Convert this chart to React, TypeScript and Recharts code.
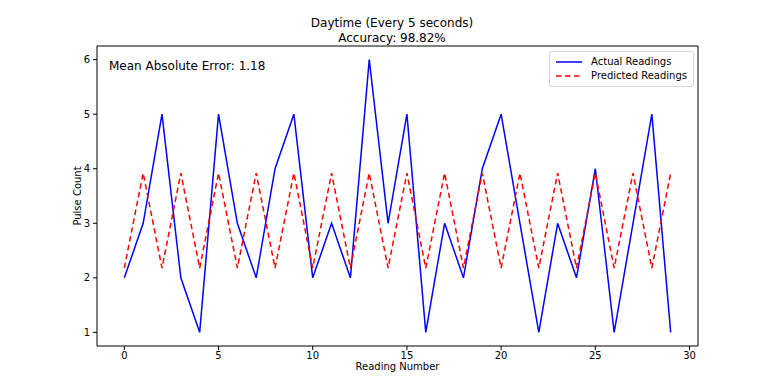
import { LineChart, Line, XAxis, YAxis, ReferenceArea } from "recharts";

const readingNumbers = [
  0, 1, 2, 3, 4, 5, 6, 7, 8, 9, 10, 11, 12, 13, 14, 15, 16, 17, 18, 19, 20, 21,
  22, 23, 24, 25, 26, 27, 28, 29,
];
const actualReadings = [
  2, 3, 5, 2, 1, 5, 3, 2, 4, 5, 2, 3, 2, 6, 3, 5, 1, 3, 2, 4, 5, 3, 1, 3, 2, 4,
  1, 3, 5, 1,
];
const predictedReadings = [
  2.18, 3.92, 2.18, 3.92, 2.18, 3.92, 2.18, 3.92, 2.18, 3.92, 2.18, 3.92, 2.18,
  3.92, 2.18, 3.92, 2.18, 3.92, 2.18, 3.92, 2.18, 3.92, 2.18, 3.92, 2.18, 3.92,
  2.18, 3.92, 2.18, 3.92,
];
const xTicks = [0, 5, 10, 15, 20, 25, 30];
const yTicks = [1, 2, 3, 4, 5, 6];

const data = readingNumbers.map((n, i) => ({
  reading: n,
  actual: actualReadings[i],
  predicted: predictedReadings[i],
}));

const FONT = "'DejaVu Sans', sans-serif";
const X_DOMAIN: [number, number] = [-1.45, 30.45];
const Y_DOMAIN: [number, number] = [0.75, 6.25];

function LegendBox() {
  return (
    <div
      style={{
        position: "absolute",
        right: 82,
        top: 43,
        border: "1px solid #d6d6d6",
        borderRadius: 3,
        background: "rgba(255,255,255,0.8)",
        padding: "3px 6px 3px 5px",
        fontSize: 10,
        color: "#000",
        lineHeight: "14px",
      }}
    >
      <div style={{ display: "flex", alignItems: "center" }}>
        <svg width={28} height={10} style={{ marginRight: 8 }}>
          <line x1={1} y1={5} x2={27} y2={5} stroke="#0000ff" strokeWidth={1.5} />
        </svg>
        Actual Readings
      </div>
      <div style={{ display: "flex", alignItems: "center" }}>
        <svg width={28} height={10} style={{ marginRight: 8 }}>
          <line
            x1={1}
            y1={5}
            x2={27}
            y2={5}
            stroke="#ff0000"
            strokeWidth={1.5}
            strokeDasharray="5.5 3.5"
          />
        </svg>
        Predicted Readings
      </div>
    </div>
  );
}

export default function App() {
  return (
    <div style={{ position: "relative", width: 768, height: 380, fontFamily: FONT }}>
      <div
        style={{
          position: "absolute",
          left: 0,
          width: 768,
          top: 8,
          textAlign: "center",
          fontSize: 12,
          lineHeight: "15px",
        }}
      >
        Daytime (Every 5 seconds)
        <br />
        Accuracy: 98.82%
      </div>
      <div
        style={{
          position: "absolute",
          left: 69,
          top: 188,
          fontSize: 10,
          transform: "translate(-50%, -50%) rotate(-90deg)",
          whiteSpace: "nowrap",
        }}
      >
        Pulse Count
      </div>
      <div
        style={{
          position: "absolute",
          left: 89,
          width: 601,
          top: 353,
          textAlign: "center",
          fontSize: 10,
        }}
      >
        Reading Number
      </div>
      <LineChart
        width={768}
        height={380}
        data={data}
        margin={{ top: 38, right: 78, left: 29, bottom: 12 }}
      >
        <XAxis
          dataKey="reading"
          type="number"
          domain={X_DOMAIN}
          ticks={xTicks}
          allowDataOverflow
          tickSize={4}
          tickMargin={2}
          height={30}
          axisLine={false}
          tickLine={{ stroke: "#000" }}
          tick={{ fill: "#000", fontSize: 10, fontFamily: FONT }}
        />
        <YAxis
          type="number"
          domain={Y_DOMAIN}
          ticks={yTicks}
          allowDataOverflow
          width={60}
          tickSize={4}
          tickMargin={3}
          axisLine={false}
          tickLine={{ stroke: "#000" }}
          tick={{ fill: "#000", fontSize: 10, fontFamily: FONT }}
        />
        <ReferenceArea
          x1={X_DOMAIN[0]}
          x2={X_DOMAIN[1]}
          y1={Y_DOMAIN[0]}
          y2={Y_DOMAIN[1]}
          fill="none"
          stroke="#000"
          strokeWidth={1}
        />
        <Line
          dataKey="actual"
          stroke="#0000ff"
          strokeWidth={1.5}
          dot={false}
          activeDot={false}
          isAnimationActive={false}
        />
        <Line
          dataKey="predicted"
          stroke="#ff0000"
          strokeWidth={1.5}
          strokeDasharray="5.5 3.5"
          dot={false}
          activeDot={false}
          isAnimationActive={false}
        />
      </LineChart>
      <div
        style={{
          position: "absolute",
          left: 101,
          top: 51,
          fontSize: 12,
        }}
      >
        Mean Absolute Error: 1.18
      </div>
      <LegendBox />
    </div>
  );
}
